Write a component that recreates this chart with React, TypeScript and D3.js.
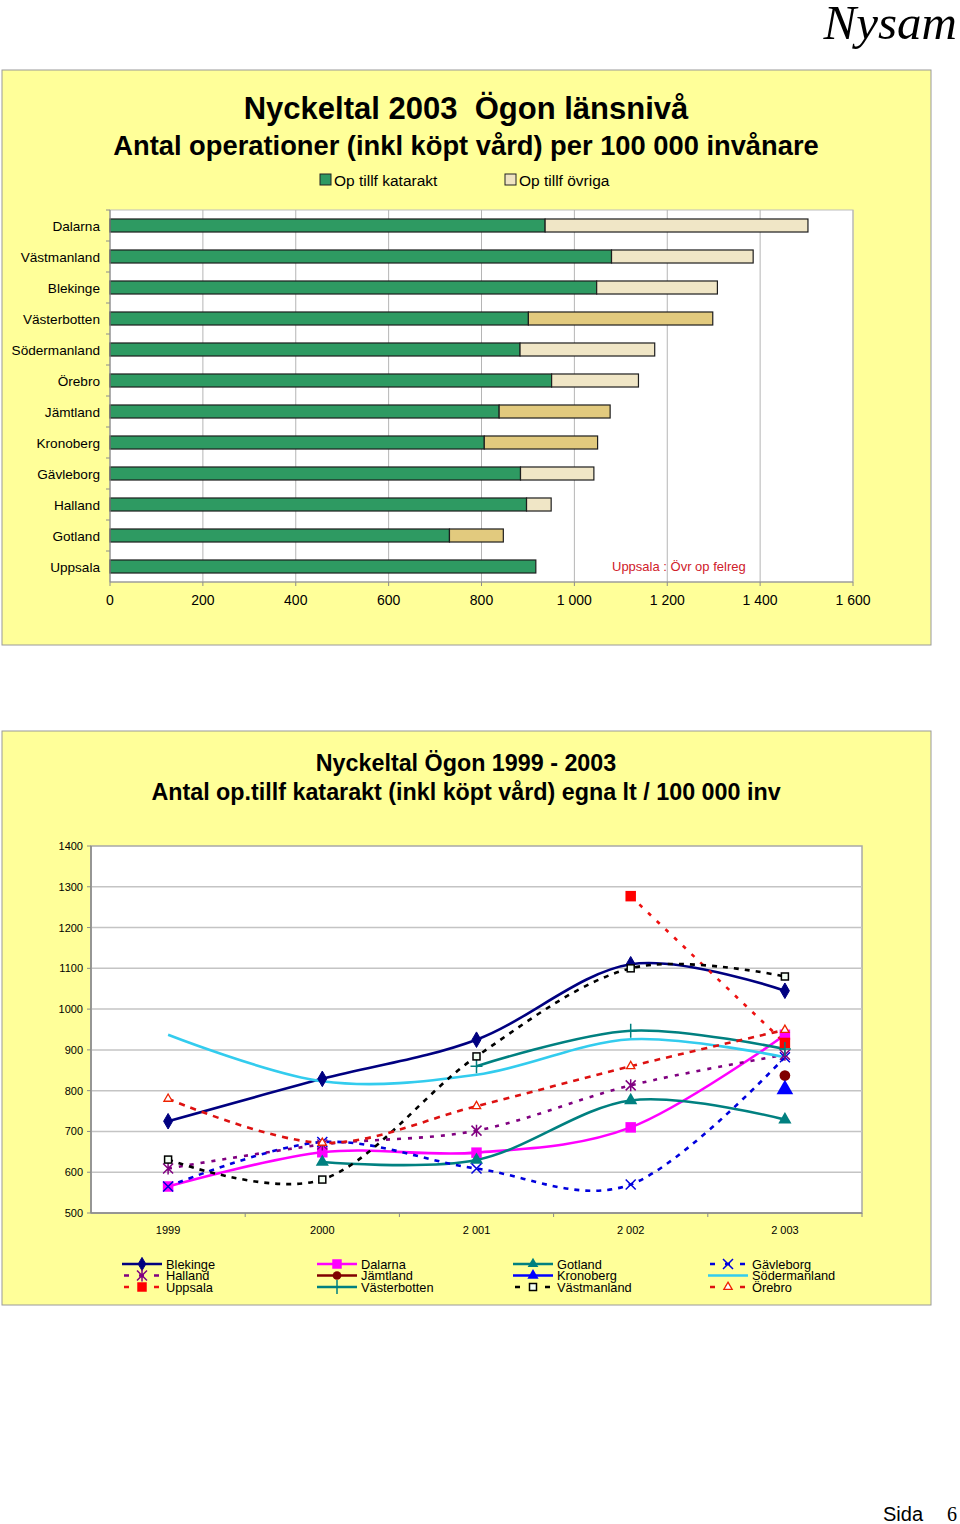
import * as React from 'react';
import {
    scaleLinear, scaleBand, line, curveCardinal, symbol,
    symbolDiamond, symbolSquare, symbolTriangle, symbolCircle, formatLocale
} from 'd3';

// --- bar chart data (antal per 100 000 inv, 2003) ---
const barCounties = ['Dalarna', 'Västmanland', 'Blekinge', 'Västerbotten', 'Södermanland', 'Örebro',
    'Jämtland', 'Kronoberg', 'Gävleborg', 'Halland', 'Gotland', 'Uppsala'];
const kataraktValues = [937, 1080, 1048, 901, 883, 951, 838, 806, 884, 897, 731, 917];
const ovrigaValues = [566, 305, 260, 397, 290, 187, 239, 244, 158, 53, 116, 0];
const barTicks = [0, 200, 400, 600, 800, 1000, 1200, 1400, 1600];
// counties whose "övriga" bar is drawn in the darker tan
const darkOvriga = ['Västerbotten', 'Jämtland', 'Kronoberg', 'Gotland'];

// --- line chart data 1999 - 2003 ---
const years = ['1999', '2000', '2 001', '2 002', '2 003'];
const lineTicks = [500, 600, 700, 800, 900, 1000, 1100, 1200, 1300, 1400];
const blekinge = [725, 829, 925, 1110, 1045];
const dalarna = [565, 649, 648, 710, 937];
const gotland = [null, 625, 630, 776, 729];
const gavleborg = [565, 674, 609, 570, 882];
const halland = [609, 668, 702, 813, 888];
const jamtland = [null, null, null, null, 837];
const kronoberg = [null, null, null, null, 803];
const sodermanland = [937, 823, 839, 926, 882];
const uppsala = [null, null, null, 1277, 917];
const vasterbotten = [null, null, 860, 947, 902];
const vastmanland = [631, 582, 884, 1100, 1080];
const orebro = [780, 672, 762, 860, 949];

type Series = { name: string; values: (number | null)[]; color: string; dash?: string; marker: string; mcolor: string; width?: number };

const series: Series[] = [
    { name: 'Blekinge', values: blekinge, color: '#000080', marker: 'diamond', mcolor: '#000080' },
    { name: 'Dalarna', values: dalarna, color: '#FF00FF', marker: 'square', mcolor: '#FF00FF' },
    { name: 'Gotland', values: gotland, color: '#008080', marker: 'triangle', mcolor: '#008080' },
    { name: 'Gävleborg', values: gavleborg, color: '#0000DD', dash: '5,6', marker: 'x', mcolor: '#0000DD' },
    { name: 'Halland', values: halland, color: '#800080', dash: '4,7', marker: 'star', mcolor: '#800080' },
    { name: 'Jämtland', values: jamtland, color: '#800000', marker: 'circle', mcolor: '#800000' },
    { name: 'Kronoberg', values: kronoberg, color: '#0000FF', marker: 'bigtriangle', mcolor: '#0000FF' },
    { name: 'Södermanland', values: sodermanland, color: '#33CCEE', marker: 'none', mcolor: '#33CCEE' },
    { name: 'Uppsala', values: uppsala, color: '#EE1111', dash: '4,8', marker: 'square', mcolor: '#FF0000' },
    { name: 'Västerbotten', values: vasterbotten, color: '#008080', marker: 'plus', mcolor: '#008080' },
    { name: 'Västmanland', values: vastmanland, color: '#000000', dash: '5,6', marker: 'opensquare', mcolor: '#000000' },
    { name: 'Örebro', values: orebro, color: '#DD1111', dash: '6,6', marker: 'opentriangle', mcolor: '#EE2200' },
];

const font = '"Liberation Sans", Arial, sans-serif';
const fmt = formatLocale({ decimal: ',', thousands: ' ', grouping: [3], currency: ['', ''] }).format(',');

// top chart geometry
const p1 = { x: 2, y: 70, w: 929, h: 575 };
const plot1 = { left: 110, right: 853, top: 210, bottom: 582 };
const xBar = scaleLinear().domain([0, 1600]).range([plot1.left, plot1.right]);
const yBar = scaleBand().domain(barCounties).range([plot1.top, plot1.bottom]).paddingInner(0.58).paddingOuter(0.29);

// bottom chart geometry
const p2 = { x: 2, y: 731, w: 929, h: 574 };
const plot2 = { left: 91, right: 862, top: 846, bottom: 1213 };
const xYear = scaleBand().domain(years).range([plot2.left, plot2.right]);
const yLine = scaleLinear().domain([500, 1400]).range([plot2.bottom, plot2.top]);
const cx = (i: number) => xYear(years[i])! + xYear.bandwidth() / 2;

const Marker = ({ type, color, x, y, legend }: { type: string; color: string; x: number; y: number; legend?: boolean }) => {
    const t = `translate(${x},${y})`;
    switch (type) {
        case 'diamond':
            return <path transform={t} d={symbol(symbolDiamond, legend ? 50 : 70)()!} fill={color} stroke={color} />;
        case 'square':
            return <path transform={t} d={symbol(symbolSquare, legend ? 90 : 110)()!} fill={color} />;
        case 'triangle':
            return <path transform={t} d={symbol(symbolTriangle, legend ? 50 : 75)()!} fill={color} />;
        case 'bigtriangle':
            return <path transform={t} d={symbol(symbolTriangle, legend ? 55 : 120)()!} fill={color} />;
        case 'circle':
            return <path transform={t} d={symbol(symbolCircle, legend ? 60 : 90)()!} fill={color} />;
        case 'x':
            return <path transform={t} d="M-5,-5L5,5M-5,5L5,-5" stroke={color} strokeWidth={1.5} fill="none" />;
        case 'star':
            return <path transform={t} d="M-5,-5L5,5M-5,5L5,-5M0,-6V6" stroke={color} strokeWidth={1.5} fill="none" />;
        case 'plus':
            return <path transform={t} d="M-6,0H6M0,-7V7" stroke={color} strokeWidth={1.5} fill="none" />;
        case 'opensquare':
            return <rect x={x - 3.5} y={y - 3.5} width={7} height={7} fill="#F4FFF4" stroke={color} strokeWidth={1.5} />;
        case 'opentriangle':
            return <path transform={t} d={symbol(symbolTriangle, 30)()!} fill="#FFFFFF" stroke={color} strokeWidth={1.3} />;
        default:
            return null;
    }
};

const BarChart = () => {
    const bh = yBar.bandwidth();
    return (
        <g>
            <rect x={p1.x} y={p1.y} width={p1.w} height={p1.h} fill="#FFFF99" stroke="#9A9A9A" />
            <text x={466} y={119} textAnchor="middle" fontFamily={font} fontWeight="bold" fontSize={31} style={{ whiteSpace: 'pre' }}>
                {'Nyckeltal 2003  Ögon länsnivå'}
            </text>
            <text x={466} y={155} textAnchor="middle" fontFamily={font} fontWeight="bold" fontSize={27.3}>
                Antal operationer (inkl köpt vård) per 100 000 invånare
            </text>
            {/* legend */}
            <rect x={320} y={174} width={11} height={11} fill="#2E9A62" stroke="#222" />
            <text x={334} y={185.5} fontFamily={font} fontSize={15.5}>Op tillf katarakt</text>
            <rect x={505} y={174} width={11} height={11} fill="#EFE4C2" stroke="#222" />
            <text x={519} y={185.5} fontFamily={font} fontSize={15.5}>Op tillf övriga</text>

            <rect x={plot1.left} y={plot1.top} width={plot1.right - plot1.left} height={plot1.bottom - plot1.top}
                fill="#FFFFFF" stroke="#BDBDBD" />
            {barTicks.slice(1).map(t =>
                <line key={t} x1={xBar(t)} x2={xBar(t)} y1={plot1.top} y2={plot1.bottom} stroke="#B5B5B5" />
            )}
            {barCounties.map((c, i) => {
                const y = yBar(c)!;
                return (
                    <g key={c}>
                        <rect x={xBar(0)} y={y} width={xBar(kataraktValues[i]) - xBar(0)} height={bh}
                            fill="#2E9A62" stroke="#1E1E1E" strokeWidth={1.2} />
                        {ovrigaValues[i] > 0 &&
                            <rect x={xBar(kataraktValues[i])} y={y} width={xBar(ovrigaValues[i]) - xBar(0)} height={bh}
                                fill={darkOvriga.includes(c) ? '#E2CA7E' : '#F0E6C6'} stroke="#1E1E1E" strokeWidth={1.2} />}
                        <text x={100} y={y + bh / 2 + 5} textAnchor="end" fontFamily={font} fontSize={13.6}>{c}</text>
                    </g>
                );
            })}
            <line x1={plot1.left} x2={plot1.left} y1={plot1.top} y2={plot1.bottom} stroke="#8C8C8C" strokeWidth={1.2} />
            <line x1={plot1.left} x2={plot1.right} y1={plot1.bottom} y2={plot1.bottom} stroke="#8C8C8C" strokeWidth={1.2} />
            {barCounties.map((c, i) =>
                <line key={c} x1={plot1.left - 4} x2={plot1.left} y1={plot1.top + i * yBar.step()} y2={plot1.top + i * yBar.step()} stroke="#8C8C8C" />
            )}
            {barTicks.map(t =>
                <g key={t}>
                    <line x1={xBar(t)} x2={xBar(t)} y1={plot1.bottom} y2={plot1.bottom + 4} stroke="#8C8C8C" />
                    <text x={xBar(t)} y={605} textAnchor="middle" fontFamily={font} fontSize={14}>{fmt(t)}</text>
                </g>
            )}
            <text x={612} y={571} fontFamily={font} fontSize={13} fill="#D0202A">Uppsala : Övr op felreg</text>
        </g>
    );
};

const LineChart = () => {
    const gen = line<number | null>()
        .defined(d => d != null)
        .x((d, i) => cx(i))
        .y(d => yLine(d as number))
        .curve(curveCardinal.tension(0));
    const legendCols = [122, 317, 513, 708];
    const legendRows = [1264, 1275.5, 1287];
    return (
        <g>
            <rect x={p2.x} y={p2.y} width={p2.w} height={p2.h} fill="#FFFF99" stroke="#9A9A9A" />
            <text x={466} y={771} textAnchor="middle" fontFamily={font} fontWeight="bold" fontSize={23.3}>Nyckeltal Ögon 1999 - 2003</text>
            <text x={466} y={800} textAnchor="middle" fontFamily={font} fontWeight="bold" fontSize={23.3}>
                Antal op.tillf katarakt (inkl köpt vård) egna lt / 100 000 inv
            </text>
            <rect x={plot2.left} y={plot2.top} width={plot2.right - plot2.left} height={plot2.bottom - plot2.top}
                fill="#FFFFFF" stroke="#A8A8A8" strokeWidth={1.5} />
            {lineTicks.slice(1, -1).map(t =>
                <line key={t} x1={plot2.left} x2={plot2.right} y1={yLine(t)} y2={yLine(t)} stroke="#C4C4C4" strokeWidth={1.5} />
            )}
            <line x1={plot2.left} x2={plot2.left} y1={plot2.top} y2={plot2.bottom} stroke="#8A8A8A" strokeWidth={1.5} />
            <line x1={plot2.left} x2={plot2.right} y1={plot2.bottom} y2={plot2.bottom} stroke="#8A8A8A" strokeWidth={1.5} />
            {lineTicks.map(t =>
                <g key={t}>
                    <line x1={plot2.left - 4} x2={plot2.left} y1={yLine(t)} y2={yLine(t)} stroke="#8A8A8A" />
                    <text x={83} y={yLine(t) + 4} textAnchor="end" fontFamily={font} fontSize={11}>{t}</text>
                </g>
            )}
            {years.map((yr, i) =>
                <g key={yr}>
                    <line x1={xYear(yr)! + xYear.bandwidth()} x2={xYear(yr)! + xYear.bandwidth()} y1={plot2.bottom} y2={plot2.bottom + 4} stroke="#8A8A8A" />
                    <text x={cx(i)} y={1234} textAnchor="middle" fontFamily={font} fontSize={11}>{yr}</text>
                </g>
            )}
            {series.map(s =>
                <path key={s.name} d={gen(s.values) || ''} fill="none" stroke={s.color}
                    strokeWidth={s.width || 2.6} strokeDasharray={s.dash} />
            )}
            {series.map(s =>
                <g key={s.name + 'm'}>
                    {s.values.map((v, i) => v == null ? null :
                        <Marker key={i} type={s.marker} color={s.mcolor} x={cx(i)} y={yLine(v)} />
                    )}
                </g>
            )}
            {series.map((s, k) => {
                const x0 = legendCols[k % 4];
                const y0 = legendRows[Math.floor(k / 4)];
                return (
                    <g key={s.name + 'l'}>
                        <line x1={x0} x2={x0 + 40} y1={y0} y2={y0} stroke={s.color} strokeWidth={2.6}
                            strokeDasharray={s.dash ? '5,10' : undefined} strokeDashoffset={s.dash ? -2 : undefined} />
                        <Marker type={s.marker} color={s.mcolor} x={x0 + 20} y={y0} legend />
                        <text x={x0 + 44} y={y0 + 4.5} fontFamily={font} fontSize={12.8}>{s.name}</text>
                    </g>
                );
            })}
        </g>
    );
};

export default function App() {
    return (
        <svg width={960} height={1524} style={{ position: 'absolute', left: 0, top: 0, background: '#FFFFFF' }}>
            <rect x={0} y={0} width={960} height={1524} fill="#FFFFFF" />
            <text x={957} y={39} textAnchor="end" fontFamily='"Liberation Serif", "Times New Roman", serif'
                fontStyle="italic" fontSize={49}>Nysam</text>
            <BarChart />
            <LineChart />
            <text x={883} y={1521} fontFamily={font} fontSize={20}>Sida</text>
            <text x={947} y={1521} fontFamily='"Liberation Serif", serif' fontSize={20}>6</text>
        </svg>
    );
}
